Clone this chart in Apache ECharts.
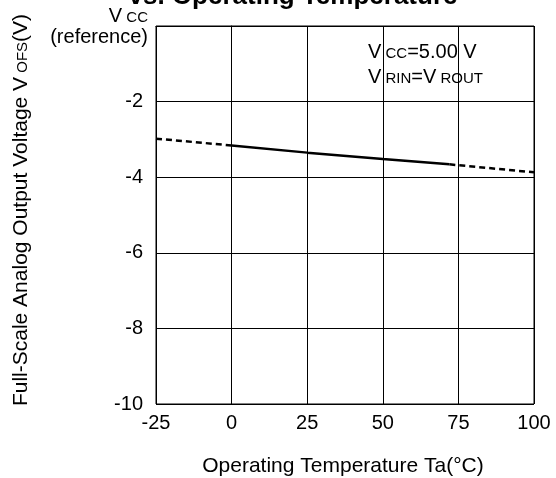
<!DOCTYPE html>
<html><head><meta charset="utf-8">
<script src="https://cdn.jsdelivr.net/npm/echarts@6/dist/echarts.min.js"></script>
<style>html,body{margin:0;padding:0;background:#fff}#c{width:556px;height:478px}</style>
</head><body><div id="c"></div>
<script>
const xTicks = [-25, 0, 25, 50, 75, 100];
const yTicks = [-10, -8, -6, -4, -2, 0];
const dashedLowT = [-25, 0];
const dashedLowV = [-2.98, -3.16];
const solidT = [0, 25, 50, 72];
const solidV = [-3.16, -3.35, -3.52, -3.66];
const dashedHighT = [72, 100];
const dashedHighV = [-3.66, -3.87];

const pair = (t, v) => t.map((x, i) => [x, v[i]]);
const F = 'Liberation Sans, Arial, sans-serif';
const mkRich = (big, small) => ({
  a: {fontSize: big, fontFamily: F, fill: '#000', color: '#000', verticalAlign: 'bottom', lineHeight: big + 2},
  b: {fontSize: small, fontFamily: F, fill: '#000', color: '#000', verticalAlign: 'bottom', lineHeight: small + 2, padding: [0, 0, 1, 0]}
});
const rich = mkRich(20, 15);
const richY = mkRich(21, 15);
const chart = echarts.init(document.getElementById('c'), null, {renderer: 'canvas'});
chart.setOption({
  backgroundColor: '#fff',
  animation: false,
  grid: {left: 156, right: 22, top: 26, bottom: 74, show: true, borderColor: '#000', borderWidth: 1},
  xAxis: {
    type: 'value', min: xTicks[0], max: xTicks[xTicks.length - 1], interval: 25,
    axisLine: {lineStyle: {color: '#000', width: 1}},
    axisTick: {show: false},
    splitLine: {show: true, lineStyle: {color: '#000', width: 1}},
    axisLabel: {color: '#000', fontSize: 20, fontFamily: F, margin: 9}
  },
  yAxis: {
    type: 'value', min: yTicks[0], max: yTicks[yTicks.length - 1], interval: 2,
    axisLine: {lineStyle: {color: '#000', width: 1}},
    axisTick: {show: false},
    splitLine: {show: true, lineStyle: {color: '#000', width: 1}},
    axisLabel: {color: '#000', fontSize: 20, fontFamily: F, margin: 13,
      formatter: v => v === 0 ? '' : String(v)}
  },
  graphic: [
    {type: 'text', x: 293, y: -3, style: {text: 'vs. Operating Temperature', fill: '#000',
      font: 'bold 26px ' + F, align: 'center', verticalAlign: 'middle'}},
    {type: 'text', x: 148, y: 15, style: {text: '{a|V}{b| CC}', rich: rich,
      align: 'right', verticalAlign: 'middle'}},
    {type: 'text', x: 148, y: 37, style: {text: '(reference)', fill: '#000', font: '20px ' + F,
      align: 'right', verticalAlign: 'middle'}},
    {type: 'text', x: 368, y: 51, style: {text: '{a|V}{b| CC}{a|=5.00 V}', rich: rich,
      align: 'left', verticalAlign: 'middle'}},
    {type: 'text', x: 368, y: 76, style: {text: '{a|V}{b| RIN}{a|=V}{b| ROUT}', rich: rich,
      align: 'left', verticalAlign: 'middle'}},
    {type: 'text', x: 343, y: 466, style: {text: 'Operating Temperature Ta(°C)', fill: '#000', font: '21px ' + F,
      align: 'center', verticalAlign: 'middle'}},
    {type: 'text', x: 20, y: 210, rotation: Math.PI / 2, style: {text: '{a|Full-Scale Analog Output Voltage V}{b| OFS}{a|(V)}',
      rich: richY, align: 'center', verticalAlign: 'middle'}}
  ],
  series: [
    {type: 'line', data: pair(dashedLowT, dashedLowV), symbol: 'none', lineStyle: {color: '#000', width: 2.5, type: [6, 4]}},
    {type: 'line', data: pair(solidT, solidV), symbol: 'none', lineStyle: {color: '#000', width: 2.5}},
    {type: 'line', data: pair(dashedHighT, dashedHighV), symbol: 'none', lineStyle: {color: '#000', width: 2.5, type: [6, 4]}}
  ]
});
</script></body></html>
